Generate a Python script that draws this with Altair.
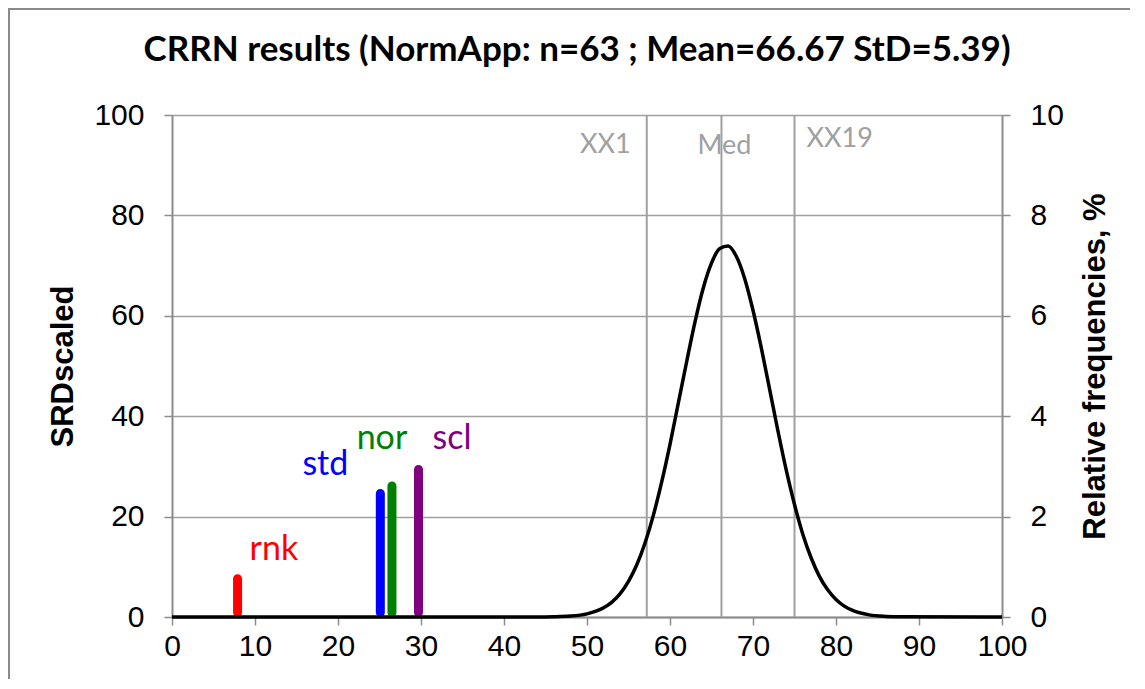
import altair as alt
import pandas as pd

# ---- data ----
curve_x = [0, 44, 46, 48, 50, 52, 53, 54, 55, 56, 57, 58, 59, 60, 61, 62, 63, 64, 65, 66, 67,
           68, 69, 70, 71, 72, 73, 74, 75, 76, 77, 78, 79, 80, 81, 82, 84, 86, 88, 100]
curve_freq = [0, 0.001, 0.005, 0.018, 0.062, 0.182, 0.297, 0.467, 0.71, 1.04, 1.48, 2.03, 2.69,
              3.44, 4.26, 5.08, 5.87, 6.55, 7.05, 7.34, 7.39, 7.18, 6.74, 6.11, 5.36, 4.54, 3.71,
              2.93, 2.24, 1.65, 1.18, 0.81, 0.541, 0.348, 0.216, 0.130, 0.042, 0.012, 0.003, 0]

bar_names = ["rnk", "std", "nor", "scl"]
bar_x = [7.9, 25.1, 26.5, 29.7]
bar_y = [8.5, 25.5, 27.0, 30.3]
bar_colors = ["#ff0000", "#0000ff", "#008000", "#800080"]

ref_names = ["XX1", "Med", "XX19"]
ref_x = [57.2, 66.2, 75.0]

x_ticks = list(range(0, 101, 10))
left_ticks = list(range(0, 101, 20))
right_ticks = list(range(0, 11, 2))

title_text = "CRRN results (NormApp: n=63 ; Mean=66.67 StD=5.39)"

W, H = 830, 502
GRAY = "#a0a0a0"
AXGRAY = "#8c8c8c"
TICK_FS = 30
TITLE_FS = 31

curve_df = pd.DataFrame({"x": curve_x, "f": curve_freq})
bars_df = pd.DataFrame({"name": bar_names, "x": bar_x, "y": bar_y, "color": bar_colors})
ref_df = pd.DataFrame({"name": ref_names, "x": ref_x})
title_df = pd.DataFrame({"t": [title_text]})

xscale = alt.Scale(domain=[0, 100], nice=False, padding=0)
yscale = alt.Scale(domain=[0, 100], nice=False)

xaxis = alt.Axis(values=x_ticks, grid=False, labelFont="Liberation Sans", labelFontSize=TICK_FS,
                 labelColor="#000000", labelPadding=6, tickSize=8, tickColor=AXGRAY, tickWidth=1.5,
                 domainColor=AXGRAY, domainWidth=2, title=None, labelFlush=False)
yaxis = alt.Axis(values=left_ticks, grid=True, gridColor=GRAY, gridWidth=1.5,
                 labelFont="Liberation Sans", labelFontSize=TICK_FS, labelColor="#000000",
                 labelPadding=20, tickSize=8, tickColor=AXGRAY, tickWidth=1.5,
                 domainColor=AXGRAY, domainWidth=2, title="SRDscaled",
                 titleFont="Liberation Sans", titleFontSize=TITLE_FS, titleFontWeight="bold",
                 titleColor="#000000", titlePadding=14)

border = alt.Chart(pd.DataFrame({"a": [0]})).mark_rect(
    fill=None, stroke="#8a8a8a", strokeWidth=2, clip=False
).encode(x=alt.value(-163), x2=alt.value(W + 300), y=alt.value(-106), y2=alt.value(H + 300))

title_mark = alt.Chart(title_df).mark_text(
    font="Lato", fontSize=35, fontWeight="bold", color="#000000", align="center",
    baseline="middle", clip=False
).encode(x=alt.value(W / 2 - 10), y=alt.value(-65), text="t:N")

grid_base = alt.Chart(bars_df).mark_bar(opacity=0).encode(
    x=alt.X("x:Q", scale=xscale, axis=xaxis),
    y=alt.Y("y:Q", scale=yscale, axis=yaxis),
)

refs = alt.Chart(ref_df).mark_rule(color=GRAY, strokeWidth=2).encode(
    x=alt.X("x:Q", scale=xscale)
)

ref_styles = {
    "XX1": dict(align="right", dx=-16, y=30),
    "Med": dict(align="center", dx=3, y=31),
    "XX19": dict(align="left", dx=12, y=24),
}
ref_labels = []
for nm in ref_names:
    st = ref_styles[nm]
    ref_labels.append(
        alt.Chart(ref_df).transform_filter(alt.datum.name == nm).mark_text(
            font="Lato", fontSize=27, color="#a0a0a0", align=st["align"], dx=st["dx"],
            baseline="middle"
        ).encode(x=alt.X("x:Q", scale=xscale), y=alt.value(st["y"]), text="name:N")
    )

bars = alt.Chart(bars_df).mark_bar(size=9, cornerRadiusEnd=4.5).encode(
    x=alt.X("x:Q", scale=xscale),
    y=alt.Y("y:Q", scale=yscale),
    y2=alt.datum(0),
    color=alt.Color("color:N", scale=None, legend=None),
)

bar_styles = {
    "rnk": dict(align="left", dx=12, dy=-24),
    "std": dict(align="right", dx=-32, dy=-24),
    "nor": dict(align="center", dx=-10, dy=-42),
    "scl": dict(align="left", dx=14, dy=-26),
}
bar_labels = []
for nm, col in zip(bar_names, bar_colors):
    st = bar_styles[nm]
    bar_labels.append(
        alt.Chart(bars_df).transform_filter(alt.datum.name == nm).mark_text(
            font="Lato", fontSize=34, color=col, align=st["align"], dx=st["dx"], dy=st["dy"],
            baseline="middle"
        ).encode(x=alt.X("x:Q", scale=xscale), y=alt.Y("y:Q", scale=yscale), text="name:N")
    )

left = alt.layer(border, title_mark, grid_base, refs, *ref_labels, bars, *bar_labels)

curve = alt.Chart(curve_df).mark_line(color="#000000", strokeWidth=3.5, interpolate="monotone").encode(
    x=alt.X("x:Q", scale=xscale),
    y=alt.Y("f:Q", scale=alt.Scale(domain=[0, 10], nice=False),
            axis=alt.Axis(orient="right", values=right_ticks, grid=False,
                          labelFont="Liberation Sans", labelFontSize=TICK_FS, labelColor="#000000",
                          labelPadding=20, tickSize=8, tickColor=AXGRAY, tickWidth=1.5,
                          domainColor=AXGRAY, domainWidth=2, title="Relative frequencies, %",
                          titleFont="Liberation Sans", titleFontSize=TITLE_FS, titleFontWeight="bold",
                          titleColor="#000000", titlePadding=48, titleAngle=270)),
)

chart = alt.layer(left, curve).resolve_scale(y="independent").properties(
    width=W, height=H,
    autosize=alt.AutoSizeParams(type="none"),
    padding={"left": 164, "top": 107, "right": 128, "bottom": 62},
).configure_view(stroke=None)

chart.save("out.html", embed_options={"renderer": "svg", "actions": False})
